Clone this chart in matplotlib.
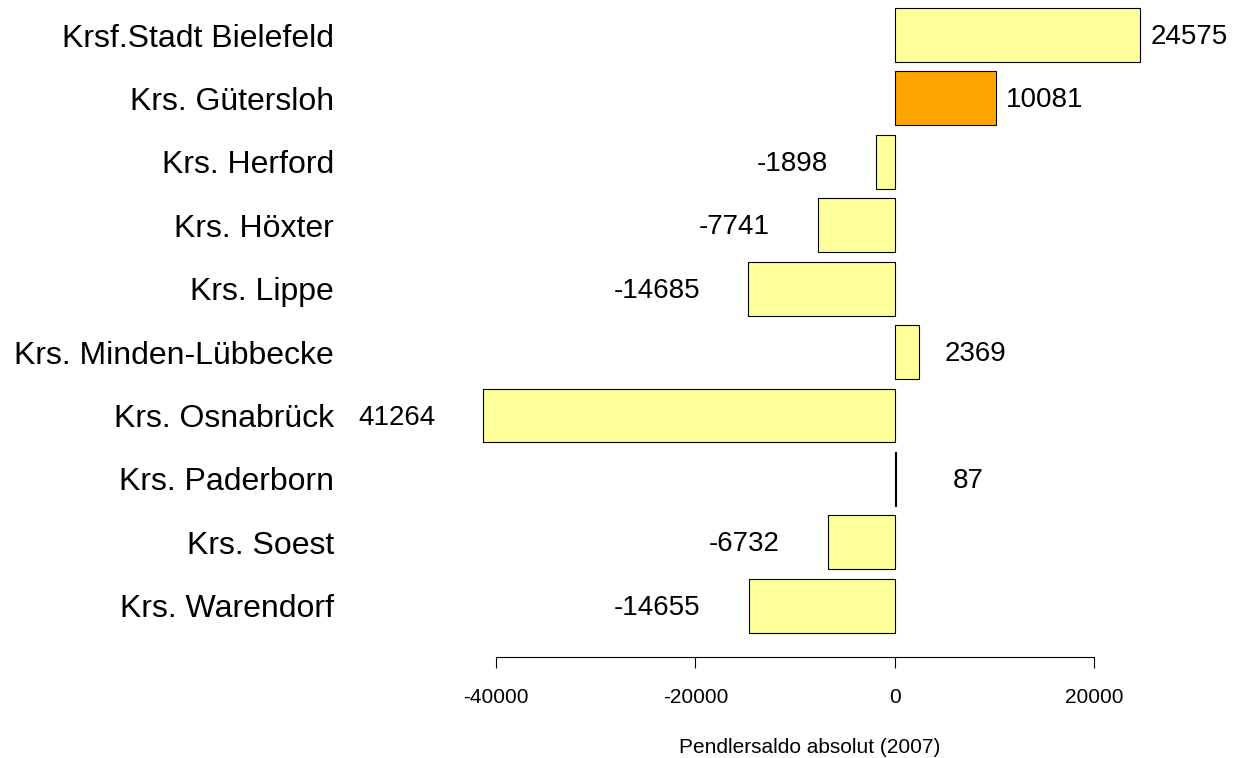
import matplotlib.pyplot as plt

plt.rcParams['font.family'] = ['Liberation Sans', 'DejaVu Sans']

# Data:
regions = ['Krsf.Stadt Bielefeld', 'Krs. Gütersloh', 'Krs. Herford',
           'Krs. Höxter', 'Krs. Lippe', 'Krs. Minden-Lübbecke',
           'Krs. Osnabrück', 'Krs. Paderborn', 'Krs. Soest',
           'Krs. Warendorf']
saldo = [24575, 10081, -1898, -7741, -14685, 2369, -41264, 87, -6732, -14655]
value_labels = ['24575', '10081', '-1898', '-7741', '-14685', '2369',
                '41264', '87', '-6732', '-14655']
highlight = 'Krs. Gütersloh'
xticks = [-40000, -20000, 0, 20000]

# Colours:
col_default = '#FFFF99'
col_highlight = '#FFA500'
colors = [col_highlight if r == highlight else col_default for r in regions]

fig = plt.figure(figsize=(12.42, 7.58), dpi=100)
ax = fig.add_axes([0.3784, 0.1332, 0.5475, 0.8668])

ax.barh(range(len(regions)), saldo, height=0.85, color=colors,
        edgecolor='black', linewidth=0.8)

# Value labels next to the bars:
for i, (v, lab) in enumerate(zip(saldo, value_labels)):
    if v >= 0:
        ax.annotate(lab, (v, i), xytext=(63, -1.5), textcoords='offset points',
                    ha='right', va='center', fontsize=20)
    else:
        ax.annotate(lab, (v, i), xytext=(-34.5, -1.5),
                    textcoords='offset points',
                    ha='right', va='center', fontsize=20)

ax.set_xlim(-42607, 25564)
ax.set_ylim(9.81, -0.552)

ax.set_yticks(range(len(regions)))
ax.set_yticklabels(regions, fontsize=23)
ax.tick_params(axis='y', length=0, pad=98)

ax.set_xticks(xticks)
ax.set_xticklabels([str(t) for t in xticks], fontsize=15)
ax.tick_params(axis='x', direction='out', length=8, width=0.8, pad=14.5)
ax.set_xlabel('Pendlersaldo absolut (2007)', fontsize=15, labelpad=22)

for side in ['top', 'right', 'left']:
    ax.spines[side].set_visible(False)
ax.spines['bottom'].set_bounds(xticks[0], xticks[-1])
ax.spines['bottom'].set_linewidth(0.8)

fig.savefig('out.png', dpi=100)
